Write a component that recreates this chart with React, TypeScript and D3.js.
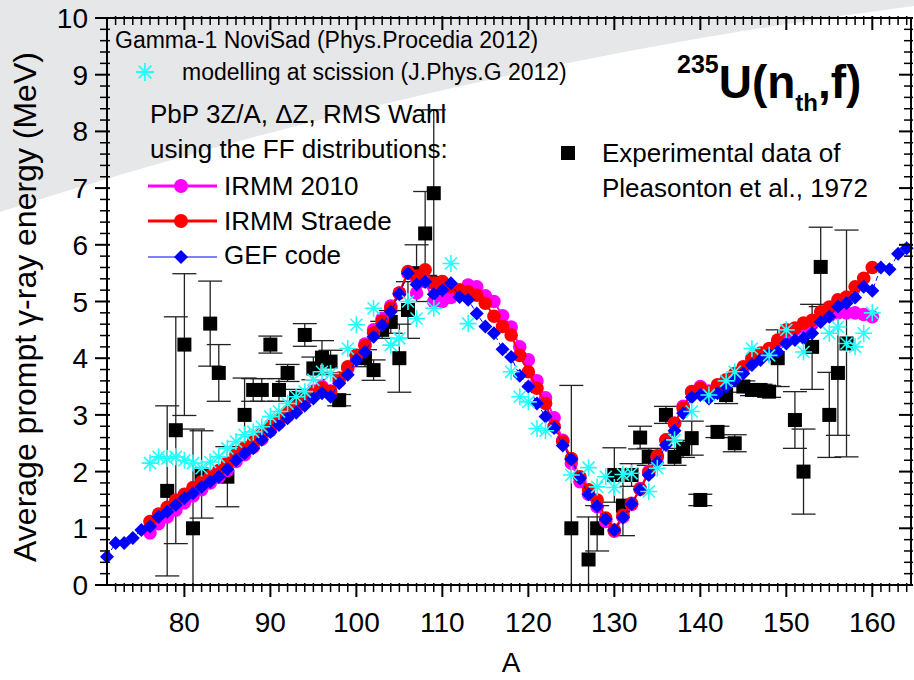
import React from "react";
import * as d3 from "d3";

// ---------------- DATA ----------------
const gefA = d3.range(71, 165);
const gefV = [0.5, 0.74, 0.74, 0.83, 0.97, 1.03, 1.2, 1.29, 1.41, 1.53, 1.62, 1.73, 1.82, 1.91, 2.04, 2.2, 2.32, 2.41, 2.56, 2.7,
  2.82, 2.94, 3.04, 3.16, 3.29, 3.38, 3.32, 3.56, 3.71, 3.97, 4.11, 4.38, 4.58, 4.82, 5.13, 5.5, 5.3, 5.35, 5.13, 5.2,
  5.32, 5.08, 5.03, 4.79, 4.56, 4.44, 4.16, 4.02, 3.69, 3.5, 3.2, 2.97, 2.77, 2.46, 2.22, 1.88, 1.6, 1.39, 1.16, 0.97,
  1.19, 1.43, 1.68, 1.94, 2.16, 2.47, 2.72, 3.03, 3.31, 3.35, 3.29, 3.38, 3.49, 3.61, 3.73, 3.88, 3.97, 4.06, 4.11, 4.26,
  4.32, 4.35, 4.44, 4.64, 4.73, 4.91, 4.97, 5.07, 5.26, 5.19, 5.6, 5.57, 5.84, 5.94];

const irmmA = d3.range(76, 161);
const straedeV = [1.12, 1.25, 1.37, 1.5, 1.6, 1.72, 1.82, 1.92, 2.02, 2.15, 2.3, 2.42, 2.52, 2.66, 2.8, 2.92, 3.03, 3.14, 3.27, 3.4,
  3.47, 3.41, 3.65, 3.85, 4.05, 4.22, 4.45, 4.65, 4.88, 5.15, 5.53, 5.45, 5.56, 5.32, 5.35, 5.26, 5.2, 5.17, 5.11, 4.97,
  4.74, 4.56, 4.41, 4.05, 3.76, 3.47, 3.2, 2.8, 2.53, 2.23, 1.91, 1.68, 1.5, 1.18, 0.97, 1.23, 1.44, 1.69, 1.98, 2.28,
  2.56, 2.85, 3.12, 3.41, 3.47, 3.4, 3.53, 3.62, 3.73, 3.85, 4.0, 4.09, 4.17, 4.32, 4.5, 4.53, 4.62, 4.67, 4.82, 4.9,
  5.03, 5.08, 5.26, 5.41, 5.6];
const irmm2010V = [0.92, 1.08, 1.2, 1.32, 1.45, 1.57, 1.68, 1.8, 1.9, 2.02, 2.18, 2.3, 2.43, 2.57, 2.72, 2.86, 2.98, 3.1, 3.25, 3.42,
  3.5, 3.42, 3.6, 3.82, 4.05, 4.25, 4.5, 4.7, 4.92, 5.15, 5.5, 5.15, 5.35, 5.0, 5.0, 5.07, 5.2, 5.29, 5.26, 5.1,
  5.0, 4.75, 4.55, 4.2, 3.97, 3.6, 3.3, 2.95, 2.55, 2.15, 1.82, 1.6, 1.38, 1.12, 0.95, 1.2, 1.42, 1.7, 2.0, 2.25,
  2.55, 2.85, 3.15, 3.4, 3.5, 3.42, 3.5, 3.6, 3.7, 3.82, 3.95, 4.05, 4.15, 4.3, 4.45, 4.5, 4.55, 4.6, 4.7, 4.75,
  4.8, 4.8, 4.8, 4.77, 4.73];

const sciA = [76, 77, 78, 79, 80, 81, 82, 83, 84, 85, 86, 87, 88, 89, 90, 91, 92, 93, 94, 95, 96, 97, 99, 100, 102, 104, 105, 106, 107,
  109, 111, 113, 118, 119, 120, 121, 122, 125, 127, 128, 129, 130, 131, 132, 134, 135, 137, 139, 141, 143, 144, 146, 148, 150,
  152, 155, 156, 157, 158, 159, 160];
const sciV = [2.15, 2.26, 2.23, 2.26, 2.2, 2.15, 2.06, 2.17, 2.26, 2.41, 2.53, 2.65, 2.7, 2.79, 2.97, 3.06, 3.2, 3.32, 3.41, 3.62, 3.76,
  3.73, 4.17, 4.59, 4.88, 4.23, 4.35, 5.0, 4.7, 4.88, 5.67, 4.61, 3.76, 3.32, 3.23, 2.76, 2.72, 1.94, 2.07, 1.73, 1.91, 1.72, 1.95,
  1.97, 1.65, 2.06, 2.56, 3.06, 3.35, 3.6, 3.76, 4.17, 4.05, 4.5, 4.11, 4.44, 4.55, 4.26, 4.2, 4.44, 4.8];

const expA = [78, 79, 80, 81, 82, 83, 84, 85, 87, 88, 89, 90, 91, 92, 93, 94, 95, 96, 97, 98, 101, 102, 103, 104, 105, 106, 107, 108, 109,
  125, 127, 128, 130, 131, 132, 133, 134, 136, 137, 138, 139, 140, 142, 143, 144, 145, 146, 147, 148, 149, 151, 152, 153, 154,
  155, 156, 157];
const expV = [1.66, 2.73, 4.24, 1.0, 1.95, 4.61, 3.74, 1.91, 3.0, 3.44, 3.44, 4.24, 3.44, 3.74, 3.3, 4.41, 3.82, 4.01, 3.94, 3.26, 4.0,
  3.79, 4.5, 4.64, 4.0, 4.85, 5.5, 6.2, 6.91, 1.0, 0.45, 1.0, 1.94, 1.4, 1.94, 2.6, 2.26, 3.0, 2.26, 2.4, 2.59, 1.5, 2.7, 3.35,
  2.5, 3.5, 3.44, 3.44, 3.41, 4.0, 2.91, 2.0, 4.2, 5.61, 3.0, 3.74, 4.26];
const expErr = [1.5, 2.0, 1.25, 1.75, 0.77, 0.75, 0.5, 0.53, 0.65, 0.2, 0.2, 0.15, 0.2, 0.15, 0.15, 0.2, 0.2, 0.3, 0.2, 0.1, 0.15,
  0.18, 0.15, 0.2, 0.6, 0.5, 0.5, 0.74, 1.47, 2.52, 0.75, 0.4, 0.48, 0.53, 0.2, 0.2, 0.15, 0.15, 0.15, 0.15, 0.3, 0.1, 0.1, 0.15,
  0.15, 0.1, 0.1, 0.1, 0.1, 0.5, 0.5, 0.75, 0.75, 0.7, 0.75, 1.1, 2.0];

const xTicks = [80, 90, 100, 110, 120, 130, 140, 150, 160];
const yTicks = [0, 1, 2, 3, 4, 5, 6, 7, 8, 9, 10];

// ---------------- LAYOUT ----------------
const W = 914, H = 680;
const L = 107, R = 911, T = 18, B = 585;
const FONT = "'Liberation Sans', Arial, Helvetica, sans-serif";

const x = d3.scaleLinear().domain([71, 164.5]).range([L, R]);
const y = d3.scaleLinear().domain([0, 10]).range([B, T]);

function Asterisk({ cx, cy, r = 8, sw = 1.6 }: { cx: number; cy: number; r?: number; sw?: number }) {
  const d = [0, 45, 90, 135].map((a) => {
    const rad = (a * Math.PI) / 180;
    const dx = Math.cos(rad) * r, dy = Math.sin(rad) * r;
    return `M${cx - dx},${cy - dy}L${cx + dx},${cy + dy}`;
  }).join("");
  return <path d={d} stroke="#22ffff" strokeWidth={sw} fill="none" />;
}

function Diamond({ cx, cy, r = 7 }: { cx: number; cy: number; r?: number }) {
  return <path d={`M${cx},${cy - r}L${cx + r},${cy}L${cx},${cy + r}L${cx - r},${cy}Z`} fill="#0000ff" />;
}

export default function App() {
  const line = d3.line<[number, number]>().x((d) => x(d[0])).y((d) => y(d[1]));
  const magPts = irmmA.map((a, i) => [a, irmm2010V[i]] as [number, number]);
  const redPts = irmmA.map((a, i) => [a, straedeV[i]] as [number, number]);
  const gefPts = gefA.map((a, i) => [a, gefV[i]] as [number, number]);

  const xMinor = d3.range(72, 165, 1).filter((v) => v % 10 !== 0);
  const yMinor = d3.range(0, 50).map((i) => i * 0.2).filter((v, i) => i % 5 !== 0);

  const bgPath = `M0,0L${W},0L${W},6Q460,64 0,212Z`;

  return (
    <svg width={W} height={H} style={{ position: "absolute", left: 0, top: 0, background: "#fff" }} fontFamily={FONT}>
      <defs>
        <clipPath id="plotClip">
          <rect x={L} y={T} width={R - L} height={B - T} />
        </clipPath>
      </defs>
      <rect x={0} y={0} width={W} height={H} fill="#ffffff" />
      <path d={bgPath} fill="#e6e7e9" />

      {/* experimental error bars */}
      <g clipPath="url(#plotClip)" stroke="#222" strokeWidth={1.3}>
        {expA.map((a, i) => {
          const cx = x(a), y1 = y(expV[i] + expErr[i]), y2 = y(expV[i] - expErr[i]);
          return (
            <g key={i}>
              <line x1={cx} x2={cx} y1={y1} y2={y2} />
              <line x1={cx - 12} x2={cx + 12} y1={y1} y2={y1} />
              <line x1={cx - 12} x2={cx + 12} y1={y2} y2={y2} />
            </g>
          );
        })}
      </g>
      <g fill="#000">
        {expA.map((a, i) => (
          <rect key={i} x={x(a) - 7} y={y(expV[i]) - 7} width={14} height={14} />
        ))}
      </g>

      {/* IRMM 2010 */}
      <path d={line(magPts) || ""} stroke="#ff00ff" strokeWidth={2} fill="none" />
      <g fill="#ff00ff">
        {magPts.map((p, i) => <circle key={i} cx={x(p[0])} cy={y(p[1])} r={6.8} />)}
      </g>
      {/* IRMM Straede */}
      <path d={line(redPts) || ""} stroke="#ff0000" strokeWidth={2} fill="none" />
      <g fill="#ff0000">
        {redPts.map((p, i) => <circle key={i} cx={x(p[0])} cy={y(p[1])} r={6.8} />)}
      </g>
      {/* GEF */}
      <path d={line(gefPts) || ""} stroke="#0000ff" strokeWidth={1} fill="none" strokeDasharray="5,3" />
      {gefPts.map((p, i) => <Diamond key={i} cx={x(p[0])} cy={y(p[1])} r={7} />)}

      {/* scission model */}
      {sciA.map((a, i) => <Asterisk key={i} cx={x(a)} cy={y(sciV[i])} r={8.5} />)}

      {/* axes frame */}
      <g stroke="#000" fill="none">
        <line x1={L} x2={R} y1={B} y2={B} strokeWidth={2} />
        <line x1={L} x2={R} y1={T} y2={T} strokeWidth={2} />
        <line x1={L} x2={L} y1={T} y2={B} strokeWidth={2} />
        <line x1={R} x2={R} y1={T} y2={B} strokeWidth={2} />
        {xTicks.map((t) => <line key={"bx" + t} x1={x(t)} x2={x(t)} y1={B - 2} y2={B + 12} strokeWidth={2} />)}
        {xMinor.map((t) => <line key={"bm" + t} x1={x(t)} x2={x(t)} y1={B - 2} y2={B + 7} strokeWidth={1.5} />)}
        {xTicks.map((t) => <line key={"tx" + t} x1={x(t)} x2={x(t)} y1={T - 2} y2={T + 12} strokeWidth={2} />)}
        {xMinor.map((t) => <line key={"tm" + t} x1={x(t)} x2={x(t)} y1={T - 2} y2={T + 7} strokeWidth={1.5} />)}
        {yTicks.map((t) => <line key={"ly" + t} x1={L - 12} x2={L + 3} y1={y(t)} y2={y(t)} strokeWidth={2} />)}
        {yMinor.map((t, i) => <line key={"lm" + i} x1={L - 7} x2={L + 3} y1={y(t)} y2={y(t)} strokeWidth={1.5} />)}
        {yTicks.map((t) => <line key={"ry" + t} x1={R - 12} x2={R + 2} y1={y(t)} y2={y(t)} strokeWidth={2} />)}
        {yMinor.map((t, i) => <line key={"rm" + i} x1={R - 7} x2={R + 2} y1={y(t)} y2={y(t)} strokeWidth={1.5} />)}
      </g>

      {/* tick labels */}
      <g fontSize={28} fill="#000">
        {xTicks.map((t) => (
          <text key={"xl" + t} x={x(t)} y={632} textAnchor="middle">{t}</text>
        ))}
        {yTicks.map((t) => (
          <text key={"yl" + t} x={88} y={y(t) + 10} textAnchor="end">{t}</text>
        ))}
      </g>

      {/* axis titles */}
      <text x={511} y={672} fontSize={28} textAnchor="middle">A</text>
      <text transform="translate(36,307) rotate(-90)" fontSize={32} textAnchor="middle">
        Average prompt γ-ray energy (MeV)
      </text>

      {/* legends */}
      <text x={115} y={48} fontSize={23}>Gamma-1 NoviSad (Phys.Procedia 2012)</text>
      <Asterisk cx={145} cy={72} r={9} sw={1.8} />
      <text x={182} y={80} fontSize={23}>modelling at scission (J.Phys.G 2012)</text>
      <text x={150} y={123} fontSize={26}>PbP 3Z/A, ΔZ, RMS Wahl</text>
      <text x={150} y={158} fontSize={26}>using the FF distributions:</text>

      <line x1={148} x2={217} y1={186} y2={186} stroke="#ff00ff" strokeWidth={3} />
      <circle cx={181} cy={186} r={7} fill="#ff00ff" />
      <text x={224} y={195} fontSize={26}>IRMM 2010</text>
      <line x1={148} x2={217} y1={221} y2={221} stroke="#ff0000" strokeWidth={3} />
      <circle cx={181} cy={221} r={7} fill="#ff0000" />
      <text x={224} y={230} fontSize={26}>IRMM Straede</text>
      <line x1={148} x2={217} y1={257} y2={257} stroke="#0000ff" strokeWidth={1} />
      <Diamond cx={181} cy={257} r={7} />
      <text x={224} y={264} fontSize={26}>GEF code</text>

      <rect x={561} y={146} width={14} height={14} fill="#000" />
      <text x={602} y={162} fontSize={26}>Experimental data of</text>
      <text x={602} y={197} fontSize={26}>Pleasonton et al., 1972</text>

      {/* reaction title */}
      <text x={677} y={98} fontWeight="bold" fontSize={46}>
        <tspan fontSize={25} dy={-25}>235</tspan>
        <tspan dy={25}>U(n</tspan>
        <tspan fontSize={24} dy={13}>th</tspan>
        <tspan dy={-13}>,f)</tspan>
      </text>
    </svg>
  );
}
